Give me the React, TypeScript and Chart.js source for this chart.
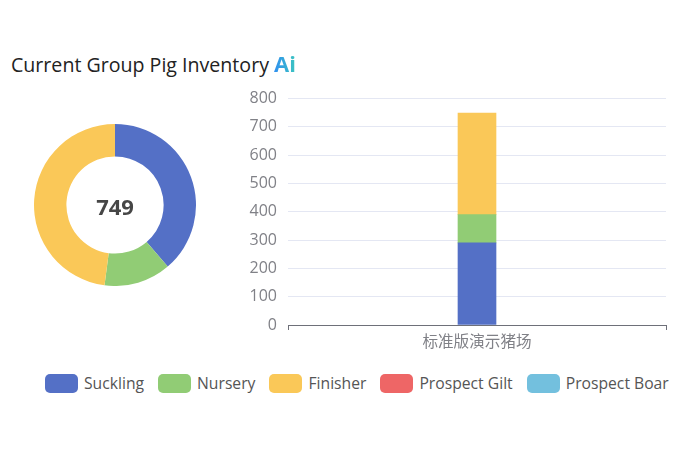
import React, { useEffect, useRef } from 'react';
import { Chart, registerables } from 'chart.js';

Chart.register(...registerables);

const categories = ['标准版演示猪场'];
const seriesNames = ['Suckling', 'Nursery', 'Finisher', 'Prospect Gilt', 'Prospect Boar'];
const seriesValues = [290, 100, 359, 0, 0];
const seriesColors = ['#5470c6', '#91cc75', '#fac858', '#ee6666', '#73c0de'];
const totalLabel = '749';
const fontFamily = '"Open Sans", sans-serif';
const axisColor = '#6e7079';
const tickColor = '#808187';

const App: React.FC = () => {
  const donutRef = useRef<HTMLCanvasElement>(null);
  const barRef = useRef<HTMLCanvasElement>(null);

  useEffect(() => {
    if (!donutRef.current || !barRef.current) return;

    const donut = new Chart(donutRef.current, {
      type: 'doughnut',
      data: {
        labels: seriesNames,
        datasets: [{ data: seriesValues, backgroundColor: seriesColors, borderWidth: 0 }],
      },
      options: {
        animation: false,
        responsive: false,
        cutout: '60%',
        plugins: { legend: { display: false }, tooltip: { enabled: false } },
      },
    });

    const bar = new Chart(barRef.current, {
      type: 'bar',
      data: {
        labels: categories,
        datasets: seriesNames.map((name, i) => ({
          label: name,
          // empty series draw nothing, a 0 leaves a hairline on top of the stack
          data: [seriesValues[i] || null],
          backgroundColor: seriesColors[i],
          barThickness: 38,
        })),
      },
      options: {
        animation: false,
        responsive: false,
        layout: { padding: { top: 6, right: 14 } },
        plugins: { legend: { display: false }, tooltip: { enabled: false } },
        scales: {
          x: {
            stacked: true,
            afterFit: (scale: any) => {
              scale.height = 30;
            },
            border: { color: axisColor, width: 1 },
            grid: { offset: true, drawOnChartArea: false, tickLength: 5, color: axisColor },
            ticks: {
              color: tickColor,
              padding: 2,
              font: { family: '"Noto Sans CJK SC", sans-serif', size: 15.6 },
            },
          },
          y: {
            stacked: true,
            min: 0,
            max: 800,
            afterFit: (scale: any) => {
              scale.width = 48;
            },
            border: { display: false },
            grid: { color: '#e4e7f3', drawTicks: false },
            ticks: {
              stepSize: 100,
              color: tickColor,
              padding: 11,
              font: { family: fontFamily, size: 16 },
            },
          },
        },
      },
    });

    return () => {
      donut.destroy();
      bar.destroy();
    };
  }, []);

  return (
    <div style={{ position: 'absolute', left: 0, top: 0, width: 700, height: 465, background: '#fff', fontFamily, overflow: 'hidden' }}>
      <div style={{ position: 'absolute', left: 11, top: 50, fontSize: 19.6, lineHeight: '26px', color: '#222', whiteSpace: 'nowrap' }}>
        Current Group Pig Inventory
        <span
          style={{
            marginLeft: 5,
            fontSize: 22,
            fontWeight: 700,
            background: 'linear-gradient(90deg, #2f8ff0, #3cc6c0)',
            WebkitBackgroundClip: 'text',
            backgroundClip: 'text',
            color: 'transparent',
          }}
        >
          Ai
        </span>
      </div>

      <canvas ref={donutRef} width={162} height={162} style={{ position: 'absolute', left: 34, top: 124 }} />
      <div style={{ position: 'absolute', left: 65, top: 191, width: 100, textAlign: 'center', fontSize: 22, lineHeight: '30px', fontWeight: 700, color: '#464646' }}>
        {totalLabel}
      </div>

      <canvas ref={barRef} width={440} height={277} style={{ position: 'absolute', left: 240, top: 78 }} />

      <div style={{ position: 'absolute', left: 45, top: 373, display: 'flex', gap: 14, whiteSpace: 'nowrap' }}>
        {seriesNames.map((name, i) => (
          <div key={name} style={{ display: 'flex', alignItems: 'center', height: 20 }}>
            <span style={{ width: 33, height: 19, borderRadius: 5, background: seriesColors[i], marginRight: 6 }} />
            <span style={{ fontSize: 15.7, color: '#555' }}>{name}</span>
          </div>
        ))}
      </div>
    </div>
  );
};

export default App;
